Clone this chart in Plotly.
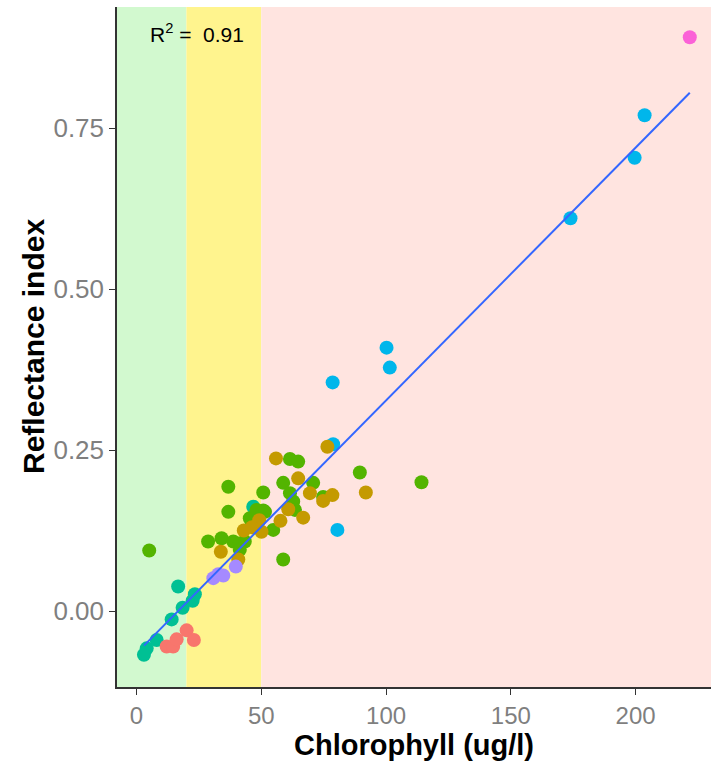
import plotly.graph_objects as go

# ---------------- data ----------------
red_x = [12.1, 14.7, 16.1, 20.1, 23.0]
red_y = [-0.055, -0.055, -0.044, -0.030, -0.045]

teal_x = [3.0, 4.1, 8.1, 14.1, 16.7, 18.5, 22.5, 23.4, 46.8]
teal_y = [-0.068, -0.058, -0.045, -0.013, 0.038, 0.005, 0.016, 0.026, 0.162]

purple_x = [30.8, 32.8, 34.8, 39.8]
purple_y = [0.051, 0.057, 0.055, 0.069]

cyan_x = [203.6, 199.6, 173.9, 100.2, 101.5, 78.6, 78.8, 80.5]
cyan_y = [0.770, 0.704, 0.610, 0.409, 0.378, 0.355, 0.259, 0.126]

pink_x = [221.7]
pink_y = [0.891]

green_x = [114.2, 89.5, 61.5, 64.8, 58.8, 70.8, 50.8, 61.5, 62.8, 63.5, 74.8,
           50.8, 46.1, 54.8, 58.8, 43.4, 36.8, 36.8, 28.7, 34.1, 38.8, 41.4,
           45.4, 5.1, 48.1, 51.5, 41.4]
green_y = [0.200, 0.215, 0.236, 0.232, 0.199, 0.199, 0.184, 0.183, 0.170, 0.157, 0.177,
           0.156, 0.142, 0.126, 0.080, 0.108, 0.193, 0.154, 0.108, 0.113, 0.108, 0.105,
           0.144, 0.094, 0.157, 0.154, 0.095]

gold_x = [76.5, 55.9, 64.8, 69.5, 74.8, 78.5, 91.9, 60.8, 66.8, 57.7, 49.2,
          43.0, 50.1, 33.8, 40.8, 46.3]
gold_y = [0.255, 0.237, 0.206, 0.183, 0.171, 0.180, 0.184, 0.158, 0.145, 0.140, 0.141,
          0.125, 0.123, 0.092, 0.080, 0.130]

# linear fit
fit_slope = 0.003926
fit_intercept = -0.0656
r_squared = 0.91

# background zones (chlorophyll thresholds)
zone_edges = [20, 50]
zone_colors = ["#D2F9CF", "#FFF48E", "#FFE4E0"]

x_ticks = [0, 50, 100, 150, 200]
y_ticks = [0.0, 0.25, 0.50, 0.75]
y_ticktext = ["0.00", "0.25", "0.50", "0.75"]

x_range = [-7.8, 230.2]
y_range = [-0.118, 0.938]

# ---------------- figure ----------------
fig = go.Figure()

groups = [
    (teal_x, teal_y, "#00C094"),
    (cyan_x, cyan_y, "#00B6EB"),
    (green_x, green_y, "#53B400"),
    (gold_x, gold_y, "#C49A00"),
    (red_x, red_y, "#F8766D"),
    (purple_x, purple_y, "#A58AFF"),
    (pink_x, pink_y, "#FB61D7"),
]
for gx, gy, col in groups:
    fig.add_trace(go.Scatter(x=gx, y=gy, mode="markers",
                             marker=dict(size=14, color=col, line=dict(width=0)),
                             showlegend=False, hoverinfo="x+y"))

all_x = [v for g in groups for v in g[0]]
fx = [min(all_x), max(all_x)]
fy = [fit_intercept + fit_slope * v for v in fx]
fig.add_trace(go.Scatter(x=fx, y=fy, mode="lines",
                         line=dict(color="#3366FF", width=2),
                         showlegend=False, hoverinfo="skip"))

# zone bands
bounds = [x_range[0]] + zone_edges + [x_range[1]]
for i, col in enumerate(zone_colors):
    fig.add_shape(type="rect", xref="x", yref="paper",
                  x0=bounds[i], x1=bounds[i + 1], y0=0, y1=1,
                  fillcolor=col, line=dict(width=0), layer="below")

font_family = "Liberation Sans, Arial, Helvetica, sans-serif"

fig.add_annotation(x=24.2, y=0.897, xref="x", yref="y",
                   text="R<sup>2</sup> =  %.2f" % r_squared, showarrow=False,
                   font=dict(size=21, color="black", family=font_family))

fig.add_annotation(x=0.5, y=0, xref="paper", yref="paper", yshift=-58,
                   text="<b>Chlorophyll (ug/l)</b>", showarrow=False,
                   yanchor="middle", xanchor="center",
                   font=dict(size=29, color="black", family=font_family))
fig.add_annotation(x=0, y=0.5, xref="paper", yref="paper", xshift=-84,
                   text="<b>Reflectance index</b>", showarrow=False, textangle=-90,
                   yanchor="middle", xanchor="center",
                   font=dict(size=30, color="black", family=font_family))

axis_common = dict(showgrid=False, zeroline=False, showline=True,
                   linecolor="#333333", linewidth=1.5, ticks="outside",
                   ticklen=6, tickwidth=1.2, tickcolor="#333333",
                   tickfont=dict(size=24, color="#7F7F7F", family=font_family))

fig.update_xaxes(range=x_range, tickvals=x_ticks, **axis_common)
fig.update_yaxes(range=y_range, tickvals=y_ticks, ticktext=y_ticktext,
                 **{**axis_common, "tickfont": dict(size=26, color="#7F7F7F", family=font_family)})

fig.update_layout(width=711, height=761,
                  margin=dict(l=117, r=0, t=7, b=74),
                  paper_bgcolor="white", plot_bgcolor="white",
                  font=dict(family=font_family))

fig.write_html("out.html")
